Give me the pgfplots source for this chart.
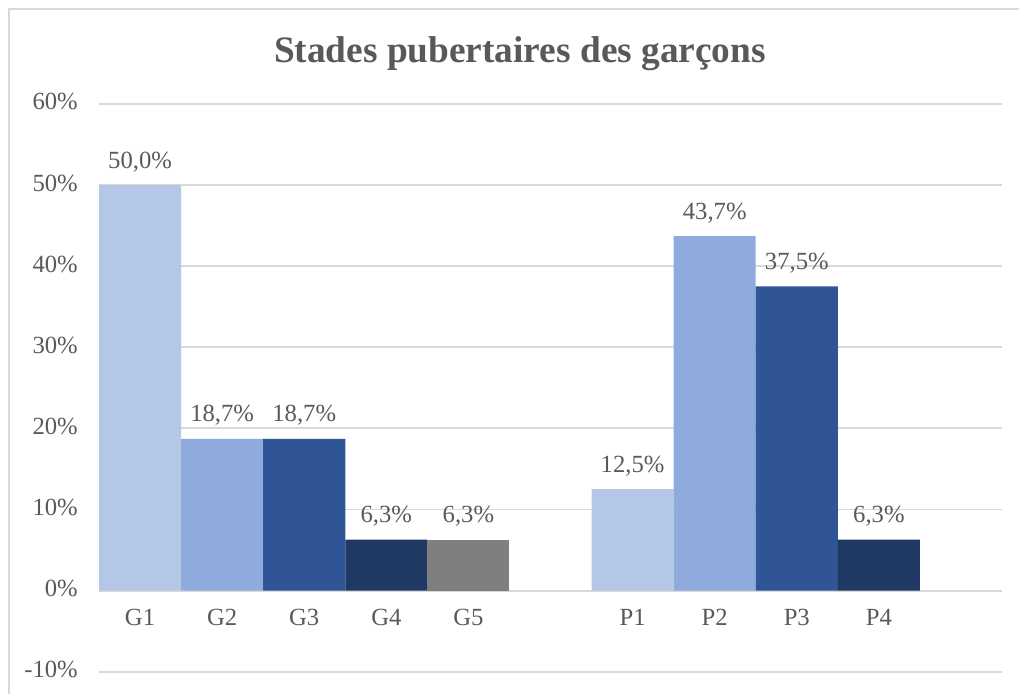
\documentclass[border=0pt]{standalone}
\usepackage{fontspec}
\setmainfont{Liberation Serif}
\usepackage{pgfplots}
\pgfplotsset{compat=1.18}
\definecolor{c1}{HTML}{B4C7E7}
\definecolor{c2}{HTML}{8FAADC}
\definecolor{c3}{HTML}{2F5597}
\definecolor{c4}{HTML}{203864}
\definecolor{c5}{HTML}{7F7F7F}
\definecolor{gridc}{HTML}{D9D9D9}
\definecolor{txt}{HTML}{595959}
\begin{document}
\begin{tikzpicture}
\useasboundingbox (0pt,0pt) rectangle (764.25pt,519.75pt);
\draw[color=gridc, line width=1.5pt] (6.75pt,-15pt) -- (6.75pt,513pt) -- (780pt,513pt);
\node[font=\fontsize{28}{32}\selectfont\bfseries, text=txt, anchor=base] at (390pt,472.5pt) {Stades pubertaires des garçons};
\begin{axis}[at={(74.25pt,15.975pt)}, anchor=south west,
  width=677.25pt, height=425.8pt, scale only axis,
  xmin=-0.5, xmax=10.5, ymin=-10, ymax=60,
  ytick={-10,0,10,20,30,40,50,60},
  yticklabels={-10\%,0\%,10\%,20\%,30\%,40\%,50\%,60\%},
  xtick={0,1,2,3,4,6,7,8,9},
  xticklabels={G1,G2,G3,G4,G5,P1,P2,P3,P4},
  ymajorgrids, grid style={gridc, line width=1.4pt},
  axis line style={draw=none}, major tick length=0pt,
  ticklabel style={font=\fontsize{18.5}{20}\selectfont, text=txt},
  yticklabel style={anchor=base east, inner sep=0pt, xshift=-15.75pt, yshift=-4.5pt},
  xticklabel style={anchor=base, inner sep=0pt, yshift=34.3pt},
  ybar, bar width=1,
  every axis plot/.append style={draw=none, bar shift=0pt},
  nodes near coords={\pgfmathprintnumber[fixed,fixed zerofill,precision=1,use comma,assume math mode=true]{\pgfplotspointmeta}\%},
  nodes near coords style={font=\fontsize{18.5}{20}\selectfont, text=txt, anchor=base, inner sep=0pt, yshift=12.75pt},
  clip=false]
\addplot[fill=c1] coordinates {(0,50.0) (6,12.5)};
\addplot[fill=c2] coordinates {(1,18.7) (7,43.7)};
\addplot[fill=c3] coordinates {(2,18.7) (8,37.5)};
\addplot[fill=c4] coordinates {(3,6.3) (9,6.3)};
\addplot[fill=c5] coordinates {(4,6.3)};
\end{axis}
\end{tikzpicture}
\end{document}
